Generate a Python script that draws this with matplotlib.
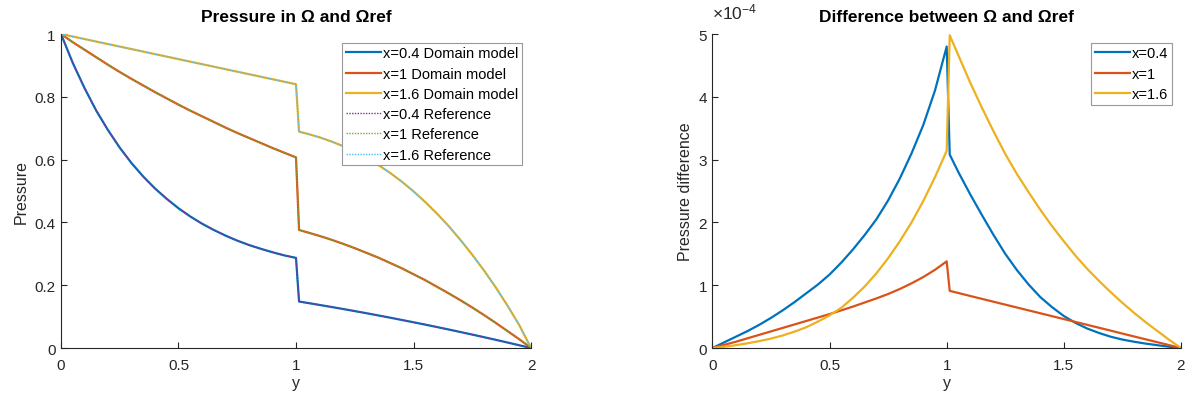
import numpy as np
import matplotlib
matplotlib.use('Agg')
import matplotlib.pyplot as plt
from matplotlib.ticker import FuncFormatter

plt.rcParams['font.family'] = ['Liberation Sans', 'DejaVu Sans']
plt.rcParams['mathtext.fontset'] = 'custom'
plt.rcParams['mathtext.rm'] = 'Liberation Sans'
plt.rcParams['mathtext.it'] = 'Liberation Sans:italic'

# y positions: left of the interface (0..1) and right of it (1.013..2)
y_lo = [0.0, 0.05, 0.1, 0.15, 0.2, 0.25, 0.3, 0.35, 0.4, 0.45, 0.5,
        0.55, 0.6, 0.65, 0.7, 0.75, 0.8, 0.85, 0.9, 0.95, 1.0]
y_hi = [1.013, 1.05, 1.1, 1.15, 1.2, 1.25, 1.3, 1.35, 1.4, 1.45, 1.5,
        1.55, 1.6, 1.65, 1.7, 1.75, 1.8, 1.85, 1.9, 1.95, 2.0]

# Pressure (domain model and reference lie on top of each other)
p04_lo = [1.0, 0.908, 0.828, 0.756, 0.694, 0.638, 0.589, 0.546, 0.508, 0.475, 0.445,
          0.419, 0.396, 0.376, 0.358, 0.342, 0.328, 0.316, 0.305, 0.295, 0.287]
p04_hi = [0.148, 0.1435, 0.1372, 0.1308, 0.1243, 0.1176, 0.1108, 0.1038, 0.0967, 0.0894, 0.082,
          0.0745, 0.0668, 0.0589, 0.0509, 0.0428, 0.0345, 0.0261, 0.0175, 0.0088, 0.0]
p1_lo = [1.0, 0.974, 0.950, 0.926, 0.902, 0.879, 0.857, 0.836, 0.815, 0.795, 0.775,
         0.756, 0.738, 0.720, 0.702, 0.685, 0.669, 0.653, 0.637, 0.622, 0.607]
p1_hi = [0.376, 0.368, 0.357, 0.345, 0.332, 0.318, 0.303, 0.288, 0.271, 0.254, 0.235,
         0.216, 0.195, 0.174, 0.152, 0.129, 0.105, 0.080, 0.054, 0.028, 0.0]
p16_lo = [1.0, 0.992, 0.984, 0.976, 0.968, 0.960, 0.952, 0.944, 0.936, 0.928, 0.920,
          0.912, 0.904, 0.896, 0.888, 0.880, 0.872, 0.864, 0.856, 0.848, 0.840]
p16_hi = [0.689, 0.682, 0.671, 0.658, 0.643, 0.625, 0.605, 0.583, 0.558, 0.530, 0.499,
          0.465, 0.428, 0.388, 0.344, 0.297, 0.247, 0.193, 0.135, 0.073, 0.0]

# Difference domain model - reference, in units of 1e-4
d04_lo = [0.0, 0.09, 0.18, 0.27, 0.37, 0.48, 0.60, 0.73, 0.87, 1.01, 1.17,
          1.36, 1.57, 1.80, 2.05, 2.35, 2.70, 3.10, 3.55, 4.10, 4.80]
d04_hi = [3.08, 2.80, 2.45, 2.12, 1.80, 1.50, 1.24, 1.01, 0.81, 0.65, 0.51,
          0.40, 0.31, 0.24, 0.18, 0.135, 0.10, 0.07, 0.045, 0.02, 0.0]
d1_lo = [0.0, 0.05, 0.10, 0.155, 0.21, 0.265, 0.32, 0.375, 0.43, 0.485, 0.54,
         0.60, 0.66, 0.725, 0.79, 0.86, 0.94, 1.03, 1.13, 1.245, 1.38]
d1_hi = [0.91, 0.876, 0.829, 0.783, 0.737, 0.691, 0.645, 0.599, 0.553, 0.507, 0.461,
         0.415, 0.369, 0.323, 0.277, 0.230, 0.184, 0.138, 0.092, 0.046, 0.0]
d16_lo = [0.0, 0.02, 0.045, 0.075, 0.11, 0.15, 0.20, 0.26, 0.33, 0.42, 0.52,
          0.64, 0.80, 0.98, 1.19, 1.43, 1.70, 2.00, 2.34, 2.72, 3.14]
d16_hi = [4.98, 4.66, 4.23, 3.83, 3.45, 3.09, 2.77, 2.48, 2.20, 1.94, 1.70,
          1.47, 1.26, 1.07, 0.89, 0.72, 0.56, 0.41, 0.27, 0.13, 0.0]
d_scale = 1e-4

labels = ['x=0.4', 'x=1', 'x=1.6']

blue = (0, 0.447, 0.741)
red = (0.85, 0.325, 0.098)
yellow = (0.929, 0.694, 0.125)
purple = (0.494, 0.184, 0.556)
green = (0.466, 0.674, 0.188)
cyan = (0.301, 0.745, 0.933)
txt = (0.15, 0.15, 0.15)

y_all = np.array(y_lo + y_hi)


def style_ax(ax):
    for side in ['top', 'right']:
        ax.spines[side].set_visible(False)
    for side in ['left', 'bottom']:
        ax.spines[side].set_color(txt)
        ax.spines[side].set_linewidth(0.8)
    ax.tick_params(direction='in', length=4, width=0.8, colors=txt, labelsize=11)
    ax.tick_params(axis='x', pad=7)
    ax.tick_params(axis='y', pad=4)
    ax.set_xlim(0, 2)
    ax.set_xticks([0, 0.5, 1, 1.5, 2])
    ax.set_xticklabels(['0', '0.5', '1', '1.5', '2'])
    ax.set_xlabel('y', fontsize=11.5, color=txt, labelpad=2)


def add_legend(ax):
    leg = ax.legend(loc='upper right', bbox_to_anchor=(1.0, 1.0), fontsize=10.5,
                    handlelength=2.4, handletextpad=0.15, labelspacing=0.43,
                    borderpad=0.25, borderaxespad=0.6, fancybox=False, framealpha=1)
    leg.get_frame().set_edgecolor((0.6, 0.6, 0.6))
    leg.get_frame().set_linewidth(0.8)
    return leg


fig = plt.figure(figsize=(11.89, 4.02), dpi=100)
ax1 = fig.add_axes([0.0513, 0.1318, 0.3953, 0.7811])
ax2 = fig.add_axes([0.5992, 0.1318, 0.3940, 0.7811])

# Left panel
model = [(p04_lo, p04_hi), (p1_lo, p1_hi), (p16_lo, p16_hi)]
for (lo, hi), c, lab in zip(model, [blue, red, yellow], labels):
    ax1.plot(y_all, lo + hi, color=c, lw=1.6, label=lab + ' Domain model')
for (lo, hi), c, lab in zip(model, [purple, green, cyan], labels):
    ax1.plot(y_all, lo + hi, color=c, lw=1.0, ls=(0, (1, 1)), label=lab + ' Reference')

style_ax(ax1)
ax1.set_ylim(0, 1)
ax1.set_yticks([0, 0.2, 0.4, 0.6, 0.8, 1])
ax1.set_yticklabels(['0', '0.2', '0.4', '0.6', '0.8', '1'])
ax1.set_ylabel('Pressure', fontsize=11.5, color=txt)
ax1.set_title('Pressure in Ω and Ωref', fontsize=12.5, fontweight='bold',
              color='black', pad=9.5)
add_legend(ax1)

# Right panel
diffs = [(d04_lo, d04_hi), (d1_lo, d1_hi), (d16_lo, d16_hi)]
for (lo, hi), c, lab in zip(diffs, [blue, red, yellow], labels):
    ax2.plot(y_all, np.array(lo + hi) * d_scale, color=c, lw=1.6, label=lab)

style_ax(ax2)
ax2.set_ylim(0, 5 * d_scale)
ax2.set_yticks(np.arange(0, 6) * d_scale)
ax2.yaxis.set_major_formatter(FuncFormatter(lambda v, pos: '%g' % round(v / d_scale, 6)))
ax2.text(0.0, 1.05, r'$\times10^{-4}$', transform=ax2.transAxes, ha='left',
         va='baseline', fontsize=12.5, color=txt)
ax2.set_ylabel('Pressure difference', fontsize=11.5, color=txt)
ax2.set_title('Difference between Ω and Ωref', fontsize=12.5, fontweight='bold',
              color='black', pad=9.5)
add_legend(ax2)

fig.savefig('out.png', dpi=100)
